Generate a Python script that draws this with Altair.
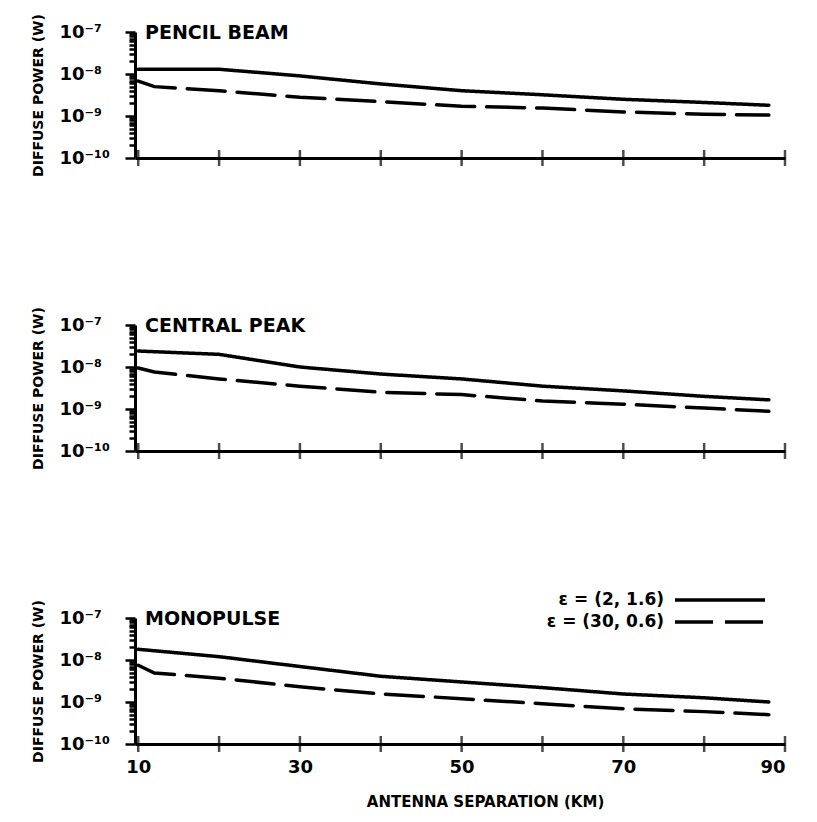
import altair as alt
import pandas as pd

FONT = "DejaVu Sans"

# ---- data (values relative to the axes) ----
x_solid = [10, 20, 30, 40, 50, 60, 70, 80, 88]
x_dashed = [10, 12, 20, 30, 40, 50, 60, 70, 80, 88]

pencil_solid = [1.3e-8, 1.3e-8, 9.0e-9, 5.8e-9, 4.0e-9, 3.2e-9, 2.5e-9, 2.1e-9, 1.8e-9]
pencil_dashed = [6.8e-9, 5.0e-9, 4.0e-9, 2.8e-9, 2.2e-9, 1.7e-9, 1.55e-9, 1.25e-9, 1.1e-9, 1.05e-9]

central_solid = [2.4e-8, 2.0e-8, 1.0e-8, 6.8e-9, 5.2e-9, 3.5e-9, 2.7e-9, 2.0e-9, 1.65e-9]
central_dashed = [9.5e-9, 7.6e-9, 5.2e-9, 3.5e-9, 2.5e-9, 2.2e-9, 1.55e-9, 1.3e-9, 1.05e-9, 8.8e-10]

mono_solid = [1.8e-8, 1.2e-8, 7.0e-9, 4.1e-9, 3.0e-9, 2.2e-9, 1.55e-9, 1.26e-9, 1.0e-9]
mono_dashed = [7.5e-9, 4.9e-9, 3.7e-9, 2.3e-9, 1.56e-9, 1.2e-9, 9.1e-10, 6.9e-10, 5.9e-10, 5.0e-10]

panel_names = ["PENCIL BEAM", "CENTRAL PEAK", "MONOPULSE"]
series_labels = ["\u03b5 = (2, 1.6)", "\u03b5 = (30, 0.6)"]

x_tick_values = [10, 20, 30, 40, 50, 60, 70, 80, 90]
x_label_values = [10, 30, 50, 70, 90]
y_tick_values = [m * 10.0 ** e for e in (-10, -9, -8) for m in range(1, 10)] + [1e-7]

y_title = "DIFFUSE POWER (W)"
x_title = "ANTENNA SEPARATION (KM)"

# ---- helpers ----
EXP = "round(log(datum.value)/LN10)"
IS_MAJOR = f"abs(log(datum.value)/LN10 - {EXP}) < 0.01"
LABEL_EXPR = (
    f"{IS_MAJOR} ? ({EXP} == -7 ? '10\u207b\u2077' : {EXP} == -8 ? '10\u207b\u2078' : "
    f"{EXP} == -9 ? '10\u207b\u2079' : '10\u207b\u00b9\u2070') : ''"
)

W, H = 650, 126


def panel(name, solid, dashed, bottom):
    df = pd.concat(
        [
            pd.DataFrame({"x": x_solid, "y": solid, "series": series_labels[0]}),
            pd.DataFrame({"x": x_dashed, "y": dashed, "series": series_labels[1]}),
        ],
        ignore_index=True,
    )

    if bottom:
        x_axis = alt.Axis(
            values=x_label_values, ticks=False, labelFont=FONT, labelFontSize=18,
            labelFontWeight="bold", labelPadding=14, labelColor="black",
            domainColor="black", domainWidth=3, grid=False,
            title=x_title, titleFont=FONT, titleFontSize=15, titleFontWeight="bold",
            titlePadding=18, titleColor="black", titleX=350,
        )
        legend = alt.Legend(
            orient="none", legendX=573, legendY=-30, title=None,
            symbolType="M-4.5,0H4.5", symbolSize=400, symbolStrokeWidth=3.5,
            symbolStrokeColor="black", labelAlign="right",
            labelOffset={"expr": "-68"},
            labelFont=FONT, labelFontSize=17, labelFontWeight="bold",
            labelColor="black", rowPadding=2,
        )
    else:
        x_axis = alt.Axis(
            values=x_label_values, ticks=False, labels=False, domainColor="black",
            domainWidth=3, grid=False, title="",
        )
        legend = None

    y_axis = alt.Axis(
        values=y_tick_values, labelExpr=LABEL_EXPR, labelOverlap=False,
        labelFont=FONT, labelFontSize=18, labelFontWeight="bold", labelColor="black",
        labelAlign="left", labelPadding=66, tickColor="black", tickWidth=2.5,
        tickSize={"condition": {"test": IS_MAJOR, "value": 10}, "value": 6},
        domainColor="black", domainWidth=3, grid=False,
        title=y_title, titleFont=FONT, titleFontSize=14, titleFontWeight="bold",
        titleColor="black", titlePadding=14,
    )

    x_scale = alt.Scale(domain=[9.6, 90], nice=False, zero=False)
    y_scale = alt.Scale(type="log", domain=[1e-10, 1e-7], nice=False)

    dash_kwargs = dict(
        scale=alt.Scale(domain=series_labels, range=[[1, 0], [38, 12]]),
    )
    if legend is None:
        dash_kwargs["legend"] = None
    else:
        dash_kwargs["legend"] = legend

    lines = alt.Chart(df).mark_line(color="black", strokeWidth=3.5, strokeCap="round").encode(
        x=alt.X("x:Q", scale=x_scale, axis=x_axis),
        y=alt.Y("y:Q", scale=y_scale, axis=y_axis),
        strokeDash=alt.StrokeDash("series:N", **dash_kwargs),
        detail="series:N",
    )

    ticks = alt.Chart(pd.DataFrame({"x": x_tick_values, "y": [1e-10] * len(x_tick_values)})).mark_tick(
        color="black", thickness=2.5, size=16, orient="vertical"
    ).encode(
        x=alt.X("x:Q", scale=x_scale),
        y=alt.Y("y:Q", scale=y_scale),
    )

    label = alt.Chart(pd.DataFrame({"t": [name]})).mark_text(
        align="left", baseline="middle", font=FONT, fontSize=19, fontWeight="bold", color="black"
    ).encode(x=alt.value(10), y=alt.value(1), text="t:N")

    return alt.layer(lines, ticks, label).properties(width=W, height=H)


charts = [
    panel(panel_names[0], pencil_solid, pencil_dashed, False),
    panel(panel_names[1], central_solid, central_dashed, False),
    panel(panel_names[2], mono_solid, mono_dashed, True),
]

chart = (
    alt.vconcat(*charts, spacing=167, bounds="flush")
    .resolve_scale(strokeDash="independent")
    .resolve_legend(strokeDash="independent")
    .properties(padding={"left": 22, "top": 5, "right": 5, "bottom": 5}, background="white")
    .configure_view(stroke="transparent")
)

chart.save("out.html", embed_options={"renderer": "svg", "actions": False})
